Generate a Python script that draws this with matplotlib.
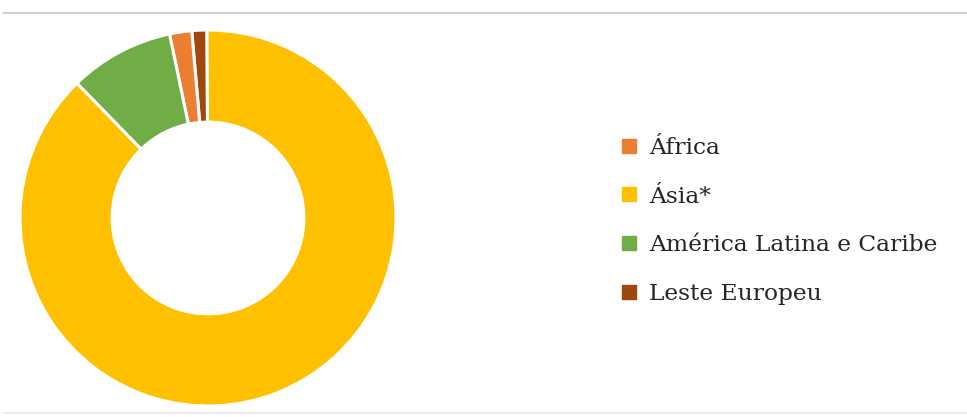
import matplotlib
matplotlib.use("Agg")
import matplotlib.pyplot as plt
from matplotlib.lines import Line2D

# Data (shares, %)
legend_labels = ["África", "Ásia*", "América Latina e Caribe", "Leste Europeu"]
legend_colors = ["#ED7D31", "#FFC000", "#70AD47", "#9E480E"]

# drawing order (counter-clockwise from the top)
slice_labels = ["Leste Europeu", "África", "América Latina e Caribe", "Ásia*"]
slice_values = [1.3, 1.9, 9.0, 87.8]

color_map = dict(zip(legend_labels, legend_colors))

W, H = 967, 417
fig = plt.figure(figsize=(W / 100, H / 100), dpi=100)

cx, cy, r = 208, 218, 188
ax = fig.add_axes([(cx - r) / W, (H - cy - r) / H, 2 * r / W, 2 * r / H])
ax.pie(slice_values, colors=[color_map[l] for l in slice_labels],
       startangle=90.3, counterclock=True, radius=1.0,
       wedgeprops=dict(width=0.49, edgecolor="white", linewidth=2.2))
ax.set_xlim(-1, 1)
ax.set_ylim(-1, 1)
ax.set_aspect("equal")
ax.axis("off")

# top and bottom separator lines
fig.add_artist(Line2D([4 / W, 1], [1 - 13 / H, 1 - 13 / H], color="#d0d0d0", lw=1.5))
fig.add_artist(Line2D([4 / W, 1], [1 - 413 / H, 1 - 413 / H], color="#ececec", lw=1.5))

handles = [Line2D([], [], marker="s", linestyle="none", markersize=10.5,
                  markerfacecolor=c, markeredgecolor=c) for c in legend_colors]
leg = fig.legend(handles, legend_labels, loc="center left",
                 bbox_to_anchor=(594 / W, 1 - 221 / H), frameon=False,
                 prop=dict(family="DejaVu Serif", size=16.8), labelspacing=1.15,
                 handletextpad=0.25, handlelength=1.2)
for t in leg.get_texts():
    t.set_color("#262626")

fig.savefig("out.png", dpi=100, facecolor="white")
